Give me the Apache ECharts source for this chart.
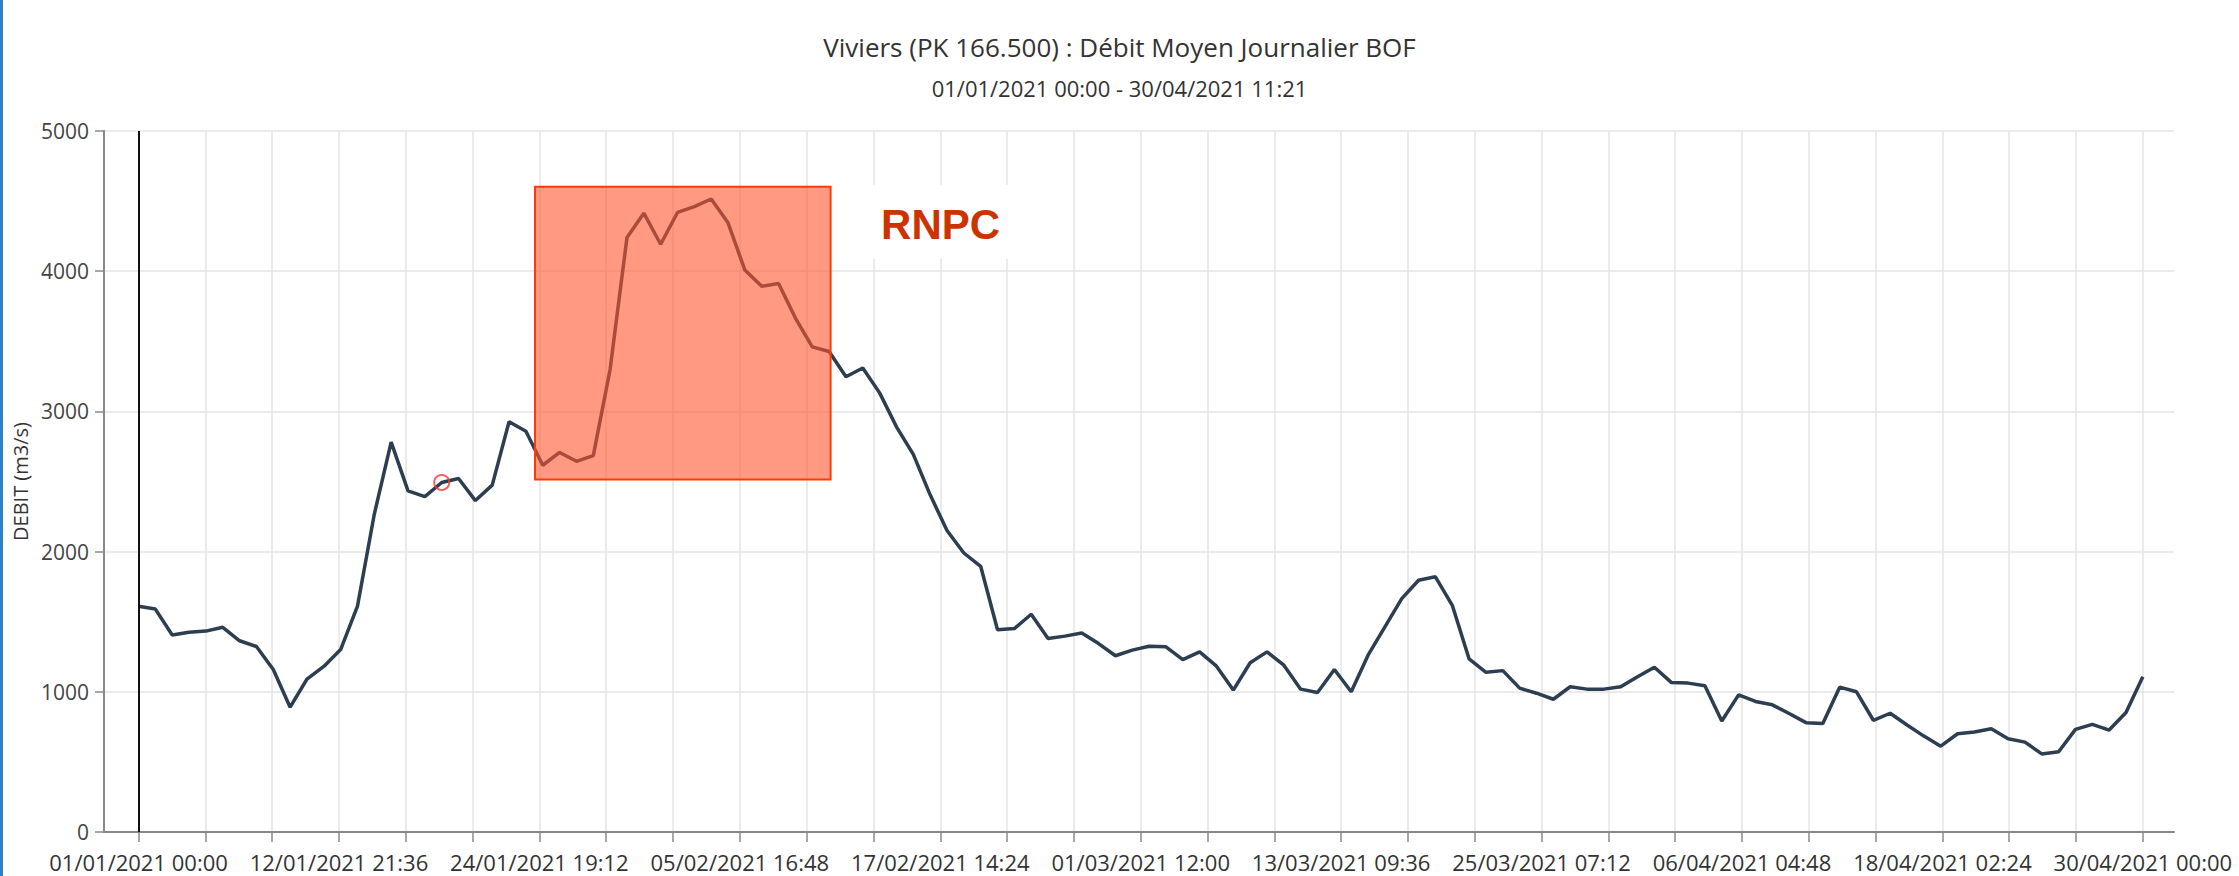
<!DOCTYPE html>
<html>
<head>
<meta charset="utf-8">
<script src="https://cdn.jsdelivr.net/npm/echarts@6/dist/echarts.min.js"></script>
<style>
html,body{margin:0;padding:0;background:#fff;}
#chart{position:absolute;left:0;top:0;width:2239px;height:876px;}
#edge{position:absolute;left:0;top:0;width:3px;height:876px;background:#2f80c4;}
</style>
</head>
<body>
<div id="chart"></div>
<div id="edge"></div>
<script>
// ---------- data ----------
const chartTitle = 'Viviers (PK 166.500) : Débit Moyen Journalier BOF';
const chartSubtitle = '01/01/2021 00:00 - 30/04/2021 11:21';
const yAxisName = 'DEBIT (m3/s)';
const startDate = '01/01/2021 00:00';
// daily mean discharge (m3/s), one value per day from 01/01/2021 to 30/04/2021
const debit = [
  1610,1590,1405,1425,1433,1460,1364,1323,1159,890,
  1090,1181,1301,1611,2268,2781,2433,2392,2493,2521,
  2364,2474,2926,2858,2616,2707,2644,2685,3300,4241,
  4414,4192,4419,4460,4515,4345,4008,3893,3912,3666,
  3460,3427,3247,3310,3132,2890,2693,2405,2150,1990,
  1895,1443,1451,1553,1380,1397,1420,1344,1257,1297,
  1325,1321,1230,1285,1183,1012,1207,1285,1190,1019,
  995,1159,1000,1261,1463,1665,1796,1820,1617,1234,
  1139,1151,1026,990,947,1036,1019,1019,1036,1108,
  1175,1067,1062,1043,792,978,931,907,845,780,
  774,1033,1000,797,847,763,684,612,701,713,
  737,665,641,557,572,732,768,727,852,1108
];
const xTickLabels = [
  '01/01/2021 00:00','12/01/2021 21:36','24/01/2021 19:12','05/02/2021 16:48',
  '17/02/2021 14:24','01/03/2021 12:00','13/03/2021 09:36','25/03/2021 07:12',
  '06/04/2021 04:48','18/04/2021 02:24','30/04/2021 00:00'
];
const yTicks = [0, 1000, 2000, 3000, 4000, 5000];
const circledDay = 18;                 // index of the circled point
const cursorDay = 0;                   // vertical cursor line
const annotationLabel = 'RNPC';
const annotationDays = [23.54, 41.09]; // annotation box, in days since start
const annotationDebit = [2515, 4603];  // annotation box, in m3/s

// ---------- helpers ----------
function parseDay(s) {
  const m = s.match(/(\d+)\/(\d+)\/(\d+) (\d+):(\d+)/);
  return Date.UTC(+m[3], +m[2] - 1, +m[1], +m[4], +m[5]);
}
const t0 = parseDay(startDate);
const labelDays = xTickLabels.map(s => (parseDay(s) - t0) / 86400000);
const minorTicks = [];
for (let i = 0; i < labelDays.length - 1; i++) {
  const a = labelDays[i], b = labelDays[i + 1];
  for (let k = 0; k < 3; k++) minorTicks.push(a + (b - a) * k / 3);
}
minorTicks.push(labelDays[labelDays.length - 1]);

const seriesData = debit.map((v, i) => [i, v]);
const FONT = '"Open Sans", "Noto Sans", sans-serif';
const AXIS_GRAY = '#888888';
const GRID_GRAY = '#e4e4e4';

const chart = echarts.init(document.getElementById('chart'), null, { renderer: 'svg' });
chart.setOption({
  animation: false,
  backgroundColor: '#fff',
  title: [
    { text: chartTitle, left: 'center', top: 29,
      textStyle: { fontFamily: FONT, fontSize: 26, fontWeight: 'normal', color: '#333' } },
    { text: chartSubtitle, left: 'center', top: 72,
      textStyle: { fontFamily: FONT, fontSize: 22, fontWeight: 'normal', color: '#333' } }
  ],
  grid: { left: 104, right: 65, top: 131, bottom: 44, containLabel: false, outerBoundsMode: 'none' },
  xAxis: {
    type: 'value',
    min: -2.05,
    max: 120.85,
    axisLine: { show: true, onZero: false, lineStyle: { color: AXIS_GRAY, width: 2 } },
    axisTick: { show: true, customValues: minorTicks, length: 10, lineStyle: { color: AXIS_GRAY, width: 1.5 } },
    axisLabel: {
      customValues: labelDays,
      hideOverlap: false,
      fontFamily: FONT, fontSize: 22, color: '#333', margin: 19,
      formatter: v => {
        let best = 0;
        labelDays.forEach((d, i) => { if (Math.abs(d - v) < Math.abs(labelDays[best] - v)) best = i; });
        return xTickLabels[best];
      }
    },
    splitLine: { show: true, lineStyle: { color: GRID_GRAY, width: 1.5 } }
  },
  yAxis: {
    type: 'value',
    min: yTicks[0],
    max: yTicks[yTicks.length - 1],
    interval: yTicks[1] - yTicks[0],
    name: yAxisName,
    nameLocation: 'middle',
    nameRotate: 90,
    nameGap: 74,
    nameTextStyle: { fontFamily: FONT, fontSize: 20, color: '#333' },
    axisLine: { show: true, onZero: false, lineStyle: { color: AXIS_GRAY, width: 2 } },
    axisTick: { show: true, length: 9, lineStyle: { color: AXIS_GRAY, width: 1.5 } },
    axisLabel: { fontFamily: FONT, fontSize: 21, color: '#444', margin: 15, formatter: v => String(v) },
    splitLine: { show: true, lineStyle: { color: GRID_GRAY, width: 1.5 } }
  },
  series: [
    {
      type: 'line',
      data: seriesData,
      showSymbol: false,
      z: 3,
      lineStyle: { color: '#2c3e50', width: 3.5 },
      itemStyle: { color: '#2c3e50' },
      markLine: {
        silent: true,
        symbol: 'none',
        label: { show: false },
        lineStyle: { color: '#111', width: 2, type: 'solid' },
        data: [{ xAxis: cursorDay }]
      }
    },
    {
      type: 'scatter',
      data: [[circledDay, debit[circledDay]]],
      symbol: 'circle',
      symbolSize: 15,
      z: 4,
      itemStyle: { color: 'rgba(0,0,0,0)', borderColor: '#f03a3a', borderWidth: 2 }
    },
    {
      type: 'custom',
      z: 10,
      clip: false,
      data: [[annotationDays[0], annotationDays[1], annotationDebit[0], annotationDebit[1]]],
      encode: { x: [0, 1], y: [2, 3] },
      renderItem: (params, api) => {
        const tl = api.coord([api.value(0), api.value(3)]);
        const br = api.coord([api.value(1), api.value(2)]);
        return {
          type: 'group',
          children: [
            { type: 'rect',
              shape: { x: tl[0], y: tl[1], width: br[0] - tl[0], height: br[1] - tl[1] },
              style: { fill: 'rgba(255,85,45,0.6)', stroke: '#ff3a0a', lineWidth: 2 } },
            { type: 'rect',
              shape: { x: br[0] + 20, y: tl[1] - 2, width: 190, height: 74 },
              style: { fill: '#ffffff' } },
            { type: 'text',
              x: br[0] + 110, y: tl[1] + 38,
              style: { text: annotationLabel, fill: '#cc3300', align: 'center', verticalAlign: 'middle',
                       font: 'bold 42px "Liberation Sans", Arial, sans-serif' } }
          ]
        };
      }
    }
  ]
});
</script>
</body>
</html>
